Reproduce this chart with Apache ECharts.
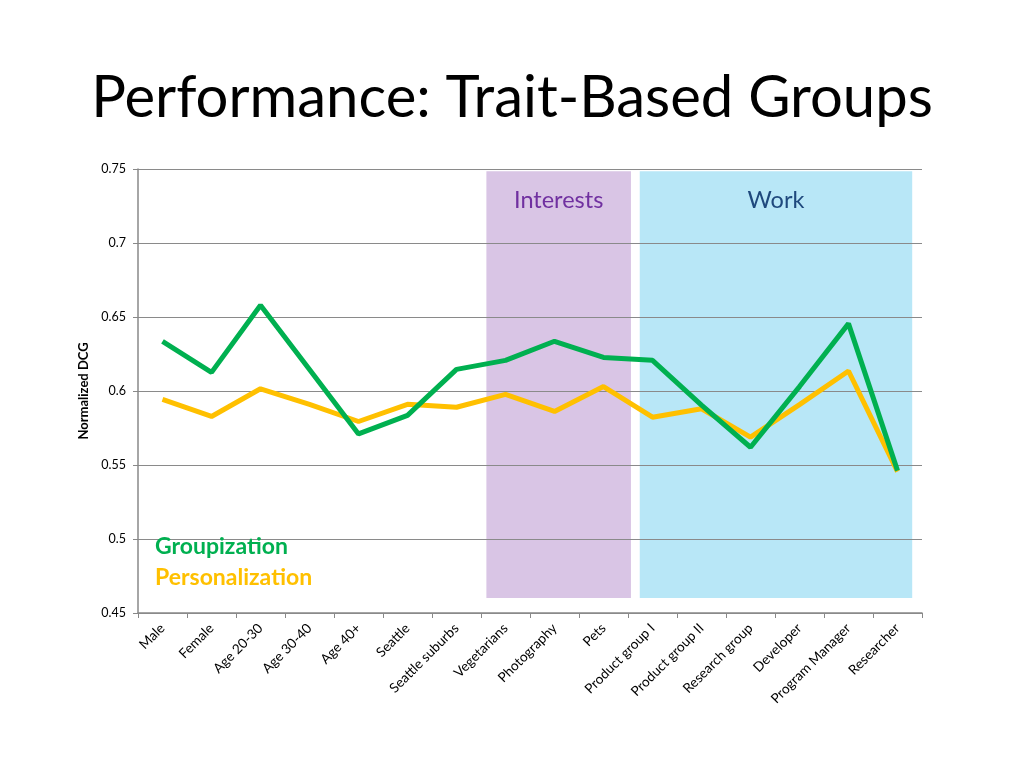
<!DOCTYPE html>
<html>
<head>
<meta charset="utf-8">
<script src="https://cdn.jsdelivr.net/npm/echarts@6/dist/echarts.min.js"></script>
<style>
html,body{margin:0;padding:0;background:#fff;}
#chart{width:1024px;height:768px;}
</style>
</head>
<body>
<div id="chart"></div>
<script>
const categories = ["Male","Female","Age 20-30","Age 30-40","Age 40+","Seattle","Seattle suburbs","Vegetarians","Photography","Pets","Product group I","Product group II","Research group","Developer","Program Manager","Researcher"];
const groupization = [0.6336,0.6126,0.658,0.6146,0.571,0.5835,0.6146,0.6207,0.6336,0.6227,0.6207,0.5905,0.562,0.603,0.6455,0.5462];
const personalization = [0.5943,0.5828,0.6015,0.591,0.5794,0.591,0.589,0.5977,0.5862,0.603,0.5823,0.588,0.5688,0.5908,0.6135,0.5455];
const yTicks = {min:0.45, max:0.75, interval:0.05};
// shaded bands in category units (0..16) and value range
const bands = [
  {name:"Interests", from:7.11, to:10.06, yFrom:0.4602, yTo:0.7484},
  {name:"Work", from:10.24, to:15.80, yFrom:0.4602, yTo:0.7484}
];

const font = "Lato, 'Open Sans', sans-serif";
const chart = echarts.init(document.getElementById('chart'));
chart.setOption({
  backgroundColor:'#fff',
  animation:false,
  title:{
    text:'Performance: Trait-Based Groups',
    left:'center', top:64,
    textStyle:{fontFamily:font, fontSize:58, fontWeight:'normal', color:'#000'}
  },
  legend:{
    orient:'vertical', left:145, top:530, icon:'none', itemWidth:0, itemGap:8,
    selectedMode:false,
    data:[
      {name:'Groupization', textStyle:{color:'#00B050'}},
      {name:'Personalization', textStyle:{color:'#FFC000'}}
    ],
    textStyle:{fontFamily:font, fontSize:23, fontWeight:'bold'}
  },
  grid:{left:138, right:102, top:169, bottom:155, containLabel:false},
  xAxis:[{
    type:'category', data:categories, boundaryGap:true,
    axisLine:{lineStyle:{color:'#888', width:1.5}},
    axisTick:{show:true, alignWithLabel:false, length:5, lineStyle:{color:'#888'}},
    axisLabel:{rotate:45, interval:0, margin:13, fontFamily:font, fontSize:13.6, color:'#000'}
  },{
    type:'value', min:0, max:16, show:false
  }],
  yAxis:{
    type:'value', min:yTicks.min, max:yTicks.max, interval:yTicks.interval, z:3,
    name:'Normalized DCG', nameLocation:'middle', nameGap:41, nameRotate:90,
    nameTextStyle:{fontFamily:font, fontSize:13, fontWeight:'bold', color:'#000'},
    axisLine:{show:true, lineStyle:{color:'#888', width:1.5}},
    axisTick:{show:true, length:5, lineStyle:{color:'#888'}},
    axisLabel:{margin:12, fontFamily:font, fontSize:12.5, color:'#000',
      formatter:v=>String(parseFloat(v.toFixed(2)))},
    splitLine:{show:true, lineStyle:{color:'#8a8a8a', width:1}}
  },
  series:[
    {
      name:'bands', type:'line', xAxisIndex:1, data:[], z:1, silent:true,
      markArea:{
        silent:true,
        data: bands.map((b,i)=>[
          {name:b.name, xAxis:b.from, yAxis:b.yTo,
           itemStyle:{color: i===0 ? '#D9C5E5' : '#B8E7F7'},
           label:{show:true, position:'insideTop', distance:17, fontFamily:font, fontSize:23.5,
             color: i===0 ? '#7030A0' : '#1F497D'}},
          {xAxis:b.to, yAxis:b.yFrom}
        ])
      }
    },
    {
      name:'Personalization', type:'line', data:personalization, z:5,
      symbol:'none', lineStyle:{color:'#FFC000', width:5}, itemStyle:{color:'#FFC000'}
    },
    {
      name:'Groupization', type:'line', data:groupization, z:6,
      symbol:'none', lineStyle:{color:'#00B050', width:5}, itemStyle:{color:'#00B050'}
    }
  ]
});
</script>
</body>
</html>
